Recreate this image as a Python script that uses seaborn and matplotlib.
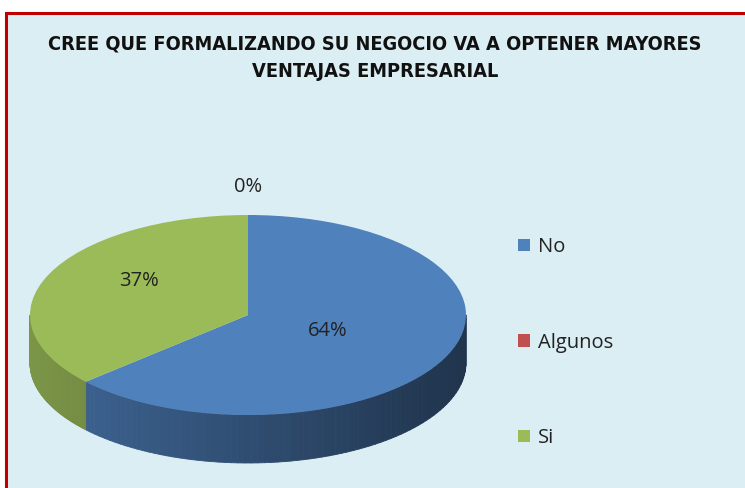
import numpy as np
import matplotlib
matplotlib.use("Agg")
import matplotlib.pyplot as plt
from matplotlib.patches import Rectangle, Patch
from matplotlib.collections import PolyCollection
from matplotlib.colors import to_rgb
import seaborn as sns

# datos de la encuesta
categorias = ["No", "Algunos", "Si"]
porcentajes = [64, 0, 37]
etiquetas = ["64%", "0%", "37%"]
colores = ["#4F81BD", "#C0504D", "#9BBB59"]

titulo = "CREE QUE FORMALIZANDO SU NEGOCIO VA A OPTENER MAYORES\nVENTAJAS EMPRESARIAL"

sns.set_theme(style="white")
plt.rcParams["font.family"] = ["Open Sans", "DejaVu Sans"]

fig = plt.figure(figsize=(7.45, 4.88), dpi=100)
fig.patch.set_facecolor("white")

# marco rojo con fondo celeste
fig.add_artist(Rectangle((6 / 745, -0.02), 1.0, (488 - 13) / 488 + 0.02,
                         transform=fig.transFigure, facecolor="#DBEEF4",
                         edgecolor="#C00000", linewidth=2.2, zorder=0))

fig.text(375 / 745, 1 - 58 / 488, titulo, ha="center", va="center",
         fontsize=14.3, fontweight="bold", linespacing=1.55,
         family=["DejaVu Sans"], stretch="condensed", color="#111111")

# ejes del pastel: 1 unidad = 218 px en x, 100 px en y
rx, ry, cx, cy = 218, 100, 248, 488 - 315
xl, yl = (-1.05, 1.05), (-1.6, 1.5)
ax = fig.add_axes([(cx + xl[0] * rx) / 745, (cy + yl[0] * ry) / 488,
                   (xl[1] - xl[0]) * rx / 745, (yl[1] - yl[0]) * ry / 488])
ax.patch.set_alpha(0)

prof = 0.48
frac = np.array(porcentajes, dtype=float) / np.sum(porcentajes)
bordes = 90 - 360 * np.concatenate([[0], np.cumsum(frac)])

# lateral 3D con degradado
polys, caras = [], []
for i, c in enumerate(colores):
    lo, hi = max(bordes[i + 1], -180), min(bordes[i], 0)
    if hi <= lo:
        continue
    t = np.radians(np.linspace(lo, hi, 80))
    base = np.array(to_rgb(c))
    for t1, t2 in zip(t[:-1], t[1:]):
        x1, x2 = np.cos(t1), np.cos(t2)
        y1, y2 = np.sin(t1), np.sin(t2)
        polys.append([(x1, y1), (x2, y2), (x2, y2 - prof), (x1, y1 - prof)])
        sombra = 0.8 - 0.2 * ((x1 + x2) / 2 + 1)
        caras.append(np.clip(base * sombra, 0, 1))
ax.add_collection(PolyCollection(polys, facecolors=caras, edgecolors=caras,
                                 linewidths=0.6, zorder=1))

ax.pie(porcentajes, colors=colores, startangle=90, counterclock=False,
       radius=1, wedgeprops=dict(linewidth=0, zorder=2))
ax.set_aspect("auto")
ax.set_xlim(*xl)
ax.set_ylim(*yl)
ax.axis("off")

# etiquetas de porcentaje (la de 0% va arriba, como en Excel)
for i, txt in enumerate(etiquetas):
    if porcentajes[i] == 0:
        px, py = 0, 1.28
    else:
        m = np.radians((bordes[i] + bordes[i + 1]) / 2)
        d = 0.4 if i == 0 else 0.55
        px, py = d * np.cos(m), d * np.sin(m) + (0.12 if i == 2 else 0)
    ax.text(px, py, txt, ha="center", va="center", fontsize=14.5,
            color="#222222", zorder=5)

manijas = [Patch(facecolor=c, edgecolor="none") for c in colores]
fig.legend(manijas, categorias, loc="upper left",
           bbox_to_anchor=(508 / 745, 1 - 227 / 488), frameon=False,
           fontsize=14.5, handlelength=0.6, handleheight=0.6,
           handletextpad=0.4, labelspacing=3.75, borderpad=0,
           labelcolor="#222222")

fig.savefig("out.png", dpi=100, facecolor="white")
